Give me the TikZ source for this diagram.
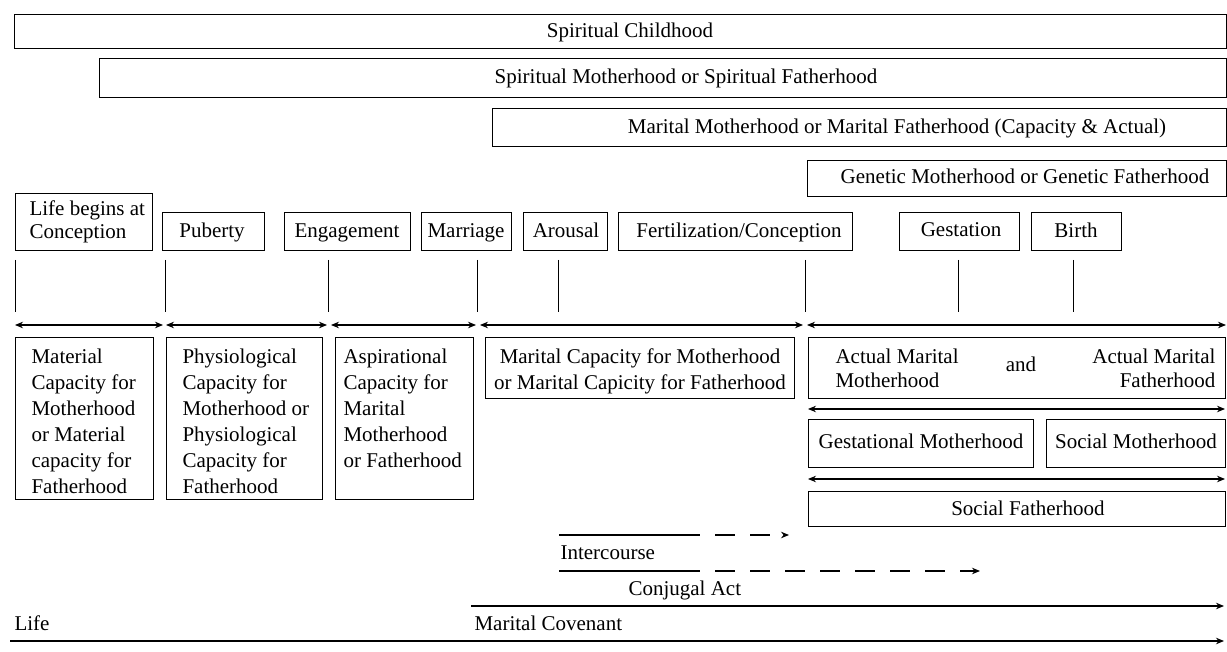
\documentclass[tikz,border=0pt]{standalone}
\usepackage{fontspec}
\setmainfont{Liberation Serif}
\usetikzlibrary{arrows.meta}
\newcommand\mybox[5]{\node[box,minimum width={#4pt-#2pt},minimum height={#5pt-#3pt}] (#1) at (#2,#3) {};}
\begin{document}
\begin{tikzpicture}[x=1pt,y=-1pt,line width=1.1pt,
  box/.style={draw,rectangle,inner sep=0pt,anchor=north west},
  txt/.style={font=\fontsize{21}{26}\selectfont,inner sep=0pt,anchor=base},
  mtxt/.style={font=\fontsize{21}{26}\selectfont,inner sep=0pt,anchor=north west,align=left},
  arr/.style={-{Stealth[length=8pt,width=6.5pt]}},
  darr/.style={{Stealth[length=8pt,width=6.5pt]}-{Stealth[length=8pt,width=6.5pt]}},
  dsh/.style={dash pattern=on 20pt off 15pt,dash phase=20pt}]
\useasboundingbox (0,0) rectangle (1227,652);
% top bars
\mybox{sc}{14}{14}{1226}{48}
\mybox{sm}{99}{58}{1226}{97}
\mybox{mm}{492}{108}{1226}{146}
\mybox{gm}{807}{160}{1226}{196}
\node[txt] (tsc) at (630,38) {Spiritual Childhood};
\node[txt] (tsm) at (686,84) {Spiritual Motherhood or Spiritual Fatherhood};
\node[txt] (tmm) at (897,134) {Marital Motherhood or Marital Fatherhood (Capacity \& Actual)};
\node[txt] (tgm) at (1025,184) {Genetic Motherhood or Genetic Fatherhood};
% events
\mybox{lb}{15}{193}{152}{250}
\mybox{pu}{162}{212}{264}{250}
\mybox{en}{284}{212}{410}{250}
\mybox{ma}{421}{212}{511}{250}
\mybox{ar}{523}{212}{607}{250}
\mybox{fc}{618}{212}{852}{250}
\mybox{ge}{899}{212}{1019}{250}
\mybox{bi}{1031}{212}{1121}{250}
\node[mtxt,font=\fontsize{21}{23}\selectfont] (tlb) at (29,200.5) {Life begins at\\Conception};
\node[txt] (tpu) at (212,238) {Puberty};
\node[txt] (ten) at (347,238) {Engagement};
\node[txt] (tma) at (466,238) {Marriage};
\node[txt] (tar) at (566,238) {Arousal};
\node[txt] (tfc) at (739,238) {Fertilization/Conception};
\node[txt] (tge) at (961,237) {Gestation};
\node[txt] (tbi) at (1076,238) {Birth};
% ticks
\foreach \i/\x in {1/15,2/165,3/328,4/477,5/558,6/805,7/958,8/1073}{
  \coordinate (ta\i) at (\x,260);
  \coordinate (tb\i) at (\x,312);
  \draw[line width=1pt] (ta\i) -- (tb\i);
}
% interval arrows
\coordinate (a1) at (15,325);  \coordinate (a2) at (163,325);
\coordinate (a3) at (166,325); \coordinate (a4) at (327,325);
\coordinate (a5) at (331,325); \coordinate (a6) at (476,325);
\coordinate (a7) at (480,325); \coordinate (a8) at (803,325);
\coordinate (a9) at (807,325); \coordinate (a10) at (1226,325);
\draw[darr] (a1) -- (a2);
\draw[darr] (a3) -- (a4);
\draw[darr] (a5) -- (a6);
\draw[darr] (a7) -- (a8);
\draw[darr] (a9) -- (a10);
% capacity boxes
\mybox{mc}{15}{337}{153}{499}
\mybox{pc}{166}{337}{322}{499}
\mybox{ac}{335}{337}{473}{499}
\mybox{mcm}{485}{337}{794}{398}
\node[mtxt] (tmc) at (31,348.5) {Material\\Capacity for\\Motherhood\\or Material\\capacity for\\Fatherhood};
\node[mtxt] (tpc) at (182,348.5) {Physiological\\Capacity for\\Motherhood or\\Physiological\\Capacity for\\Fatherhood};
\node[mtxt] (tac) at (343,348.5) {Aspirational\\Capacity for\\Marital\\Motherhood\\or Fatherhood};
\node[mtxt,align=center,anchor=north] (tmcm) at (640,348.5) {Marital Capacity for Motherhood\\or Marital Capicity for Fatherhood};
% actual boxes
\mybox{am}{808}{337}{1225}{398}
\node[mtxt,font=\fontsize{21}{24}\selectfont] (tam1) at (835,348) {Actual Marital\\Motherhood};
\node[txt] (tand) at (1021,372) {and};
\node[mtxt,font=\fontsize{21}{24}\selectfont,align=right,anchor=north east] (tam2) at (1216,348) {Actual Marital\\Fatherhood};
\coordinate (b1) at (808,409); \coordinate (b2) at (1225,409);
\draw[darr] (b1) -- (b2);
\mybox{gsm}{808}{419}{1033}{467}
\mybox{som}{1046}{419}{1225}{467}
\node[txt] (tgsm) at (921,449) {Gestational Motherhood};
\node[txt] (tsom) at (1136,449) {Social Motherhood};
\coordinate (c1) at (808,479); \coordinate (c2) at (1225,479);
\draw[darr] (c1) -- (c2);
\mybox{sf}{808}{491}{1225}{526}
\node[txt] (tsf) at (1028,515) {Social Fatherhood};
% acts
\coordinate (i1) at (559,535); \coordinate (i2) at (700,535); \coordinate (i3) at (789,535);
\draw (i1) -- (i2);
\draw[dsh,arr] (i2) -- (i3);
\node[txt,anchor=base west] (tic) at (560,559) {Intercourse};
\coordinate (j1) at (559,571); \coordinate (j2) at (700,571); \coordinate (j3) at (980,571);
\draw (j1) -- (j2);
\draw[dsh,arr] (j2) -- (j3);
\node[txt,anchor=base west] (tca) at (628,595) {Conjugal Act};
\coordinate (k1) at (471,606); \coordinate (k2) at (1224,606);
\draw[arr] (k1) -- (k2);
\node[txt,anchor=base west] (tmcv) at (474,630) {Marital Covenant};
\node[txt,anchor=base west] (tlife) at (14,630) {Life};
\coordinate (l1) at (10,641); \coordinate (l2) at (1224,641);
\draw[arr] (l1) -- (l2);
\end{tikzpicture}
\end{document}
